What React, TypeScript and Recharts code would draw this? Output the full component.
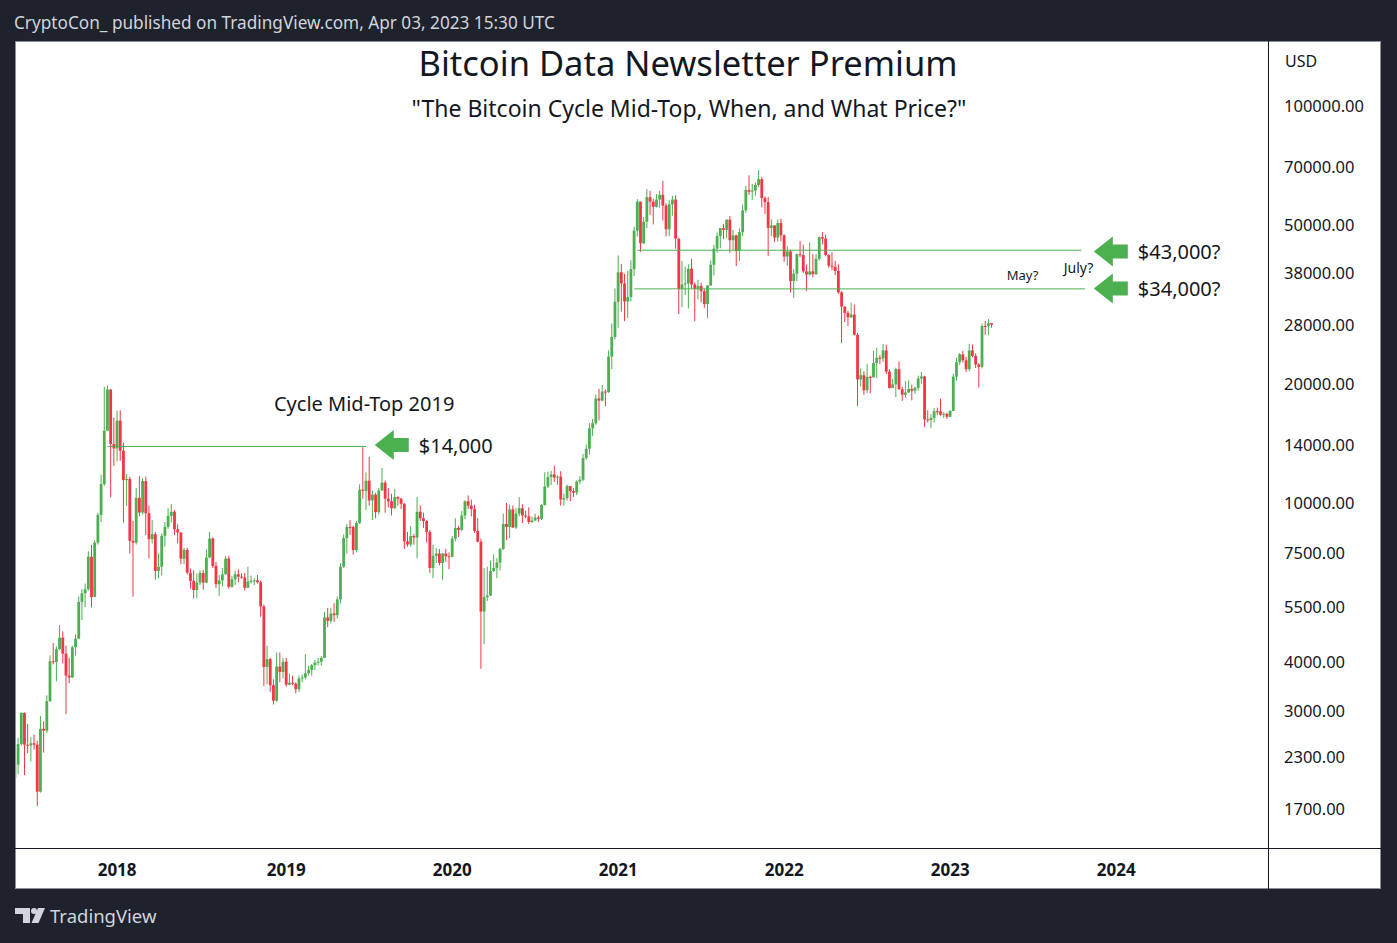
import React from 'react';
import { ComposedChart, Bar, XAxis, YAxis, ReferenceLine, ReferenceDot } from 'recharts';

const FONT = '"Noto Sans", "Open Sans", sans-serif';
const GREEN = '#4caf50';
const RED = '#f23645';
const INK = '#131722';

const DAY = 86400000;
const WEEK = 7 * DAY;
const FIRST_WEEK = Date.UTC(2017, 4, 22);
const FIRST_OPEN = 2050;

// weekly candles, [high, low, close]; open = previous close
const w2017 = [
  [2760, 1850, 2210], [2580, 2090, 2490], [2990, 2470, 2980], [2990, 2080, 2480], [2800, 2360, 2470],
  [2590, 2250, 2500], [2630, 2410, 2480], [2540, 1740, 1890], [2930, 1880, 2720], [2840, 2370, 2690],
  [3300, 2650, 3190], [4160, 3180, 4020], [4470, 3950, 4000], [4380, 3580, 4310], [4960, 4300, 4610],
  [4780, 3970, 4200], [4400, 2960, 3700], [4100, 3540, 3660], [4400, 3650, 4360], [4700, 4150, 4580],
  [5850, 4580, 5670], [6100, 5100, 5960], [6300, 5500, 6100], [7600, 6050, 7360], [7880, 5490, 5830],
  [8100, 5830, 7990], [9500, 7900, 9380], [11830, 9000, 11210], [19700, 11100, 15270], [19820, 15300, 19380],
  [19400, 10380, 14140], [16490, 12460, 13780],
];

const w2018 = [
  [17140, 12800, 16180], [17200, 12830, 13600], [14270, 8970, 11470], [11870, 9880, 11550], [11700, 7500, 8070],
  [9060, 5840, 7990], [10950, 7900, 10350], [11750, 9300, 9510], [11600, 9400, 11410], [11700, 8350, 9470],
  [9900, 7280, 8150], [9100, 7950, 8390], [8500, 6450, 6780], [7500, 6500, 6950], [8430, 6600, 8310],
  [9000, 7800, 8750], [9750, 8650, 9330], [9990, 8980, 9550], [9650, 8350, 8630], [8880, 7950, 8470],
  [8480, 7050, 7280], [7760, 7050, 7660], [7760, 6650, 6710], [6880, 6120, 6400], [6800, 5780, 6070],
  [6680, 5800, 6340], [6800, 6250, 6700], [6820, 6080, 6340], [7690, 6320, 7330], [8500, 7300, 8180],
  [8230, 6900, 6980], [7150, 6150, 6280], [6620, 5870, 6420], [6900, 6200, 6650], [7400, 6650, 7285],
  [7410, 6120, 6185], [6580, 6150, 6460], [6800, 6250, 6650], [6850, 6350, 6560], [6690, 6480, 6530],
  [6700, 6050, 6150], [6950, 6150, 6380], [6600, 6300, 6400], [6500, 6250, 6420], [6620, 6300, 6350],
  [6420, 5200, 5520], [5580, 3480, 3890], [4400, 3520, 4070], [4100, 3370, 3500], [3620, 3130, 3200],
  [4230, 3180, 3900], [4230, 3560, 3780], [4100, 3640, 4010],
];

const w2019 = [
  [4100, 3470, 3510], [3740, 3500, 3550], [3700, 3500, 3530], [3560, 3340, 3420], [3700, 3370, 3640],
  [3720, 3560, 3660], [4190, 3620, 3750], [3920, 3700, 3820], [3960, 3700, 3930], [4050, 3820, 3990],
  [4100, 3920, 4010], [4140, 3920, 4100], [5350, 4100, 5180], [5470, 4900, 5080], [5480, 5000, 5300],
  [5630, 5050, 5250], [5850, 5150, 5750], [7100, 5620, 6950], [8380, 6900, 8200], [8900, 7500, 8750],
  [9100, 8350, 8740], [8800, 7450, 7650], [9050, 7550, 8950], [11200, 8900, 10850], [13880, 10300, 10780],
  [12000, 9650, 11430], [13130, 9900, 10200], [10800, 9100, 10550], [10650, 9200, 9530], [10950, 9400, 10800],
  [12300, 10800, 11300], [11450, 9500, 10300], [10950, 9800, 10150], [10600, 9350, 9750], [10900, 9700, 10400],
  [10450, 9900, 10300], [10350, 9700, 10000], [10050, 7700, 8050], [8500, 7800, 7900], [8800, 7800, 8300],
  [8400, 7900, 8230], [10400, 7300, 9550], [9900, 9050, 9200], [9500, 8700, 9050], [9100, 8000, 8500],
  [8600, 6700, 6900], [7900, 6500, 7400], [7750, 7100, 7500], [7700, 7000, 7100], [7520, 6430, 7500],
  [7700, 7150, 7380], [7550, 6850, 7350],
];

const w2020 = [
  [8300, 7350, 8180], [9200, 8050, 8700], [8800, 8250, 8600], [9600, 8550, 9350], [10200, 9150, 10150],
  [10500, 9700, 9900], [10250, 9300, 9700], [9950, 8450, 8550], [9200, 8000, 8030], [8180, 3850, 5360],
  [6900, 4440, 5830], [6950, 5700, 5880], [7200, 5860, 6780], [7470, 6750, 6900], [7300, 6500, 7120],
  [7750, 6800, 7700], [9450, 7650, 8900], [10050, 8100, 8750], [9950, 8200, 9680], [9900, 8700, 8720],
  [9750, 8650, 9450], [10400, 9300, 9750], [9980, 8950, 9350], [9600, 9200, 9300], [9800, 8900, 9000],
  [9300, 8950, 9080], [9450, 9050, 9240], [9350, 9000, 9170], [10000, 9100, 9930], [12000, 9900, 11050],
  [12050, 10950, 11680], [12100, 11150, 11850], [12470, 11350, 11650], [11800, 11150, 11700], [12080, 9900, 10250],
  [10600, 9880, 10330], [11180, 10200, 11080], [11050, 10150, 10770], [10950, 10400, 10670], [11450, 10520, 11380],
  [11730, 11200, 11500], [13350, 11400, 13030], [14100, 12900, 13750], [15950, 13300, 15480], [16350, 14800, 15950],
  [18800, 15800, 18400], [19450, 16200, 18180], [19900, 18100, 19150], [19400, 17600, 19100], [24300, 19000, 23460],
  [28400, 21800, 26270], [34800, 25900, 32200],
];

const w2021 = [
  [42100, 27700, 38200], [40100, 30400, 35800], [37850, 28800, 32260], [38500, 29300, 33100], [40950, 32300, 38900],
  [49700, 37400, 48600], [58350, 47000, 57500], [57500, 43000, 45200], [52600, 44950, 51200], [61800, 49300, 59000],
  [61200, 53300, 57500], [58450, 50400, 55800], [60100, 55600, 58200], [61200, 55500, 59800], [64850, 51500, 56200],
  [57000, 47000, 49000], [58000, 47100, 56600], [59500, 53000, 58200], [59600, 43800, 46400], [46600, 30000, 34700],
  [40800, 31200, 35600], [39500, 33500, 35800], [40000, 31000, 39000], [41300, 34800, 35600], [36000, 28800, 34700],
  [36600, 32700, 35300], [35950, 32100, 34250], [34700, 31100, 31800], [35450, 29300, 35400], [40900, 35250, 39900],
  [44800, 37500, 43800], [48100, 42800, 47100], [49400, 43900, 49300], [50500, 46300, 48800], [51900, 46500, 51800],
  [52900, 42800, 46000], [48850, 43400, 47300], [47450, 39600, 43200], [49250, 40800, 48200], [56500, 47100, 54700],
  [62950, 53900, 61500], [67000, 59800, 60900], [63700, 58000, 61300], [64250, 59500, 63300], [69000, 62500, 65500],
  [66300, 55600, 58700], [59300, 53500, 57300], [59100, 42000, 49400], [51900, 47100, 50100], [50100, 45550, 46700],
  [51900, 45600, 50800], [52100, 45700, 47300],
];

const w2022 = [
  [47600, 40600, 41850], [44400, 39700, 43100], [43500, 34000, 36300], [38900, 32950, 37900], [42600, 36300, 42400],
  [45800, 41700, 42200], [44800, 38000, 38400], [39900, 34300, 37700], [45400, 37500, 38400], [42500, 37100, 37800],
  [42400, 37600, 41300], [47000, 40900, 46800], [48200, 44900, 46400], [47500, 41900, 42200], [42400, 39200, 39700],
  [42900, 38600, 39450], [40800, 37600, 38500], [40000, 33700, 34000], [34250, 25400, 31300], [31400, 28650, 30200],
  [30600, 28000, 29450], [32000, 29300, 29900], [31700, 26500, 26600], [26900, 17600, 20550], [21900, 19700, 21050],
  [21550, 18800, 19300], [22500, 19000, 20850], [21000, 18950, 20800], [24280, 20750, 22600], [24650, 20700, 23300],
  [23650, 22450, 23200], [25200, 22700, 24300], [25100, 21200, 21500], [21800, 19500, 19550], [20600, 19550, 19980],
  [22000, 18550, 21800], [22800, 19350, 19420], [19700, 18150, 18800], [20350, 18500, 19050], [20450, 19000, 19450],
  [19950, 18200, 19250], [19700, 18900, 19570], [21000, 19250, 20650], [21450, 20050, 20900], [21000, 15600, 16300],
  [17200, 16000, 16250], [16800, 15500, 16450], [17400, 16000, 17100], [17450, 16700, 17080], [18400, 16650, 16750],
  [17000, 16450, 16840], [16950, 16350, 16550],
];

const w2023 = [
  [17180, 16550, 17130], [21250, 17120, 20880], [23300, 20400, 22700], [23950, 22350, 23750], [24250, 22650, 22950],
  [23400, 21450, 21800], [25250, 21550, 24300], [25150, 23350, 23550], [23900, 21950, 22400], [22600, 19600, 22100],
  [28400, 21900, 28000], [28850, 26600, 27990], [29150, 26550, 28450], [28500, 27700, 28200],
];

const yearTicks = [
  Date.UTC(2018, 0, 1), Date.UTC(2019, 0, 7), Date.UTC(2020, 0, 6), Date.UTC(2021, 0, 4),
  Date.UTC(2022, 0, 3), Date.UTC(2023, 0, 2), Date.UTC(2024, 0, 1),
];
const priceTicks = [1700, 2300, 3000, 4000, 5500, 7500, 10000, 14000, 20000, 28000, 38000, 50000, 70000, 100000];

// horizontal levels drawn on the chart
const levels = [
  { price: 13940, from: Date.UTC(2017, 11, 11), to: Date.UTC(2019, 6, 1) },
  { price: 43400, from: Date.UTC(2021, 1, 15), to: Date.UTC(2023, 9, 17) },
  { price: 34700, from: Date.UTC(2021, 1, 8), to: Date.UTC(2023, 9, 25) },
];
const arrows = [
  { t: Date.UTC(2019, 6, 20), price: 14050, text: '$14,000' },
  { t: Date.UTC(2023, 10, 13), price: 43100, text: '$43,000?' },
  { t: Date.UTC(2023, 10, 13), price: 34800, text: '$34,000?' },
];
const notes = [
  { t: Date.UTC(2018, 11, 11), price: 17150, text: 'Cycle Mid-Top 2019', size: 20 },
  { t: Date.UTC(2023, 4, 6), price: 36450, text: 'May?', size: 13 },
  { t: Date.UTC(2023, 8, 8), price: 38060, text: 'July?', size: 14 },
];

const weeks = [...w2017, ...w2018, ...w2019, ...w2020, ...w2021, ...w2022, ...w2023];
const candles = weeks.map(([h, l, c], i) => {
  const o = i === 0 ? FIRST_OPEN : weeks[i - 1][2];
  const hi = Math.max(h, o, c);
  const lo = Math.min(l, o, c);
  return { t: FIRST_WEEK + i * WEEK, o, h: hi, l: lo, c, range: [lo, hi] };
});

const CHART_W = 1366;
const CHART_H = 848;
const AXIS_W = 113;
const AXIS_H = 41;
const PLOT_W = CHART_W - AXIS_W;
const PLOT_H = CHART_H - AXIS_H;

function Candle(props: any) {
  const { x, y, width, height, payload } = props;
  if (!payload || !Number.isFinite(y) || !Number.isFinite(height)) return null;
  const top = Math.min(y, y + height);
  const span = Math.abs(height);
  const lh = Math.log(payload.h);
  const ll = Math.log(payload.l);
  const k = lh > ll ? span / (lh - ll) : 0;
  const toY = (v: number) => top + (lh - Math.log(v)) * k;
  const cx = x + width / 2;
  const color = payload.c >= payload.o ? GREEN : RED;
  const bTop = toY(Math.max(payload.o, payload.c));
  const bBot = toY(Math.min(payload.o, payload.c));
  return (
    <g>
      <line x1={cx} x2={cx} y1={top} y2={top + span} stroke={color} strokeWidth={1} />
      <rect x={cx - 1.4} y={bTop} width={2.8} height={Math.max(1, bBot - bTop)} fill={color} />
    </g>
  );
}

function YearTick(props: any) {
  const { x, payload } = props;
  return (
    <text x={x} y={PLOT_H + 28} textAnchor="middle" fontSize={17} fontWeight="bold" fill={INK}
      style={{ fontFamily: FONT }}>
      {new Date(payload.value).getUTCFullYear()}
    </text>
  );
}

function PriceTick(props: any) {
  const { y, payload } = props;
  return (
    <text x={PLOT_W + 16} y={y + 5.5} textAnchor="start" fontSize={16.5} fill={INK} style={{ fontFamily: FONT }}>
      {Number(payload.value).toFixed(2)}
    </text>
  );
}

const arrowShape = (text: string) => (p: any) => {
  const { cx, cy } = p;
  const pts = [
    [cx, cy], [cx + 19, cy - 15], [cx + 19, cy - 7], [cx + 34, cy - 7],
    [cx + 34, cy + 7], [cx + 19, cy + 7], [cx + 19, cy + 15],
  ].map((q) => q.join(',')).join(' ');
  return (
    <g>
      <polygon points={pts} fill={GREEN} />
      <text x={cx + 44} y={cy + 7.5} fontSize={20} fill={INK} style={{ fontFamily: FONT }}>{text}</text>
    </g>
  );
};

const noteShape = (text: string, size: number) => (p: any) => (
  <text x={p.cx} y={p.cy} fontSize={size} fill={INK} style={{ fontFamily: FONT }}>{text}</text>
);

export default function App() {
  return (
    <div style={{ position: 'absolute', left: 0, top: 0, width: 1397, height: 943, background: '#1e222d', overflow: 'hidden' }}>
      <div style={{ position: 'absolute', left: 15, top: 41, width: CHART_W, height: CHART_H, background: '#ffffff' }}>
        <ComposedChart width={CHART_W} height={CHART_H} data={candles} margin={{ top: 0, right: 0, bottom: 0, left: 0 }}>
          <XAxis
            dataKey="t"
            type="number"
            scale="linear"
            domain={[FIRST_WEEK, Date.UTC(2018, 0, 1) + 2524 * DAY]}
            allowDataOverflow
            ticks={yearTicks}
            interval={0}
            height={AXIS_H}
            axisLine={false}
            tickLine={false}
            tick={<YearTick />}
          />
          <YAxis
            orientation="right"
            scale="log"
            domain={[1364, 145700]}
            allowDataOverflow
            ticks={priceTicks}
            interval={0}
            width={AXIS_W}
            axisLine={false}
            tickLine={false}
            tick={<PriceTick />}
          />
          <Bar dataKey="range" barSize={3} shape={Candle} isAnimationActive={false} />
          {levels.map((lv, i) => (
            <ReferenceLine
              key={`lv-${i}`}
              segment={[{ x: lv.from, y: lv.price }, { x: lv.to, y: lv.price }]}
              stroke={GREEN}
              strokeWidth={1}
            />
          ))}
          {arrows.map((a, i) => (
            <ReferenceDot key={`ar-${i}`} x={a.t} y={a.price} r={1} shape={arrowShape(a.text)} />
          ))}
          {notes.map((n, i) => (
            <ReferenceDot key={`nt-${i}`} x={n.t} y={n.price} r={1} shape={noteShape(n.text, n.size)} />
          ))}
        </ComposedChart>
      </div>
      <svg width={1397} height={943} style={{ position: 'absolute', left: 0, top: 0, pointerEvents: 'none' }}>
        <rect x={15.5} y={41.5} width={1365} height={847} fill="none" stroke="#8c8f99" strokeWidth={1} />
        <line x1={1268.5} x2={1268.5} y1={41} y2={889} stroke="#131722" strokeWidth={1} />
        <line x1={15} x2={1381} y1={848.5} y2={848.5} stroke="#131722" strokeWidth={1} />
        <g style={{ fontFamily: FONT }}>
          <text x={14} y={29} fontSize={17.2} fill="#d1d4dc">CryptoCon_ published on TradingView.com, Apr 03, 2023 15:30 UTC</text>
          <text x={688} y={76} fontSize={34.5} fill={INK} textAnchor="middle">Bitcoin Data Newsletter Premium</text>
          <text x={689} y={117} fontSize={23} fill={INK} textAnchor="middle">"The Bitcoin Cycle Mid-Top, When, and What Price?"</text>
          <text x={1285} y={66.5} fontSize={16} fill={INK}>USD</text>
          <text x={50} y={923} fontSize={18.5} fill="#d1d4dc">TradingView</text>
        </g>
        <g fill="#d1d4dc">
          <path d="M15 908 H30 V923 H23 V914 H15 Z" />
          <circle cx={34} cy={911} r={3} />
          <path d="M38 908 H45 L38.5 923 H31.5 Z" />
        </g>
      </svg>
    </div>
  );
}
